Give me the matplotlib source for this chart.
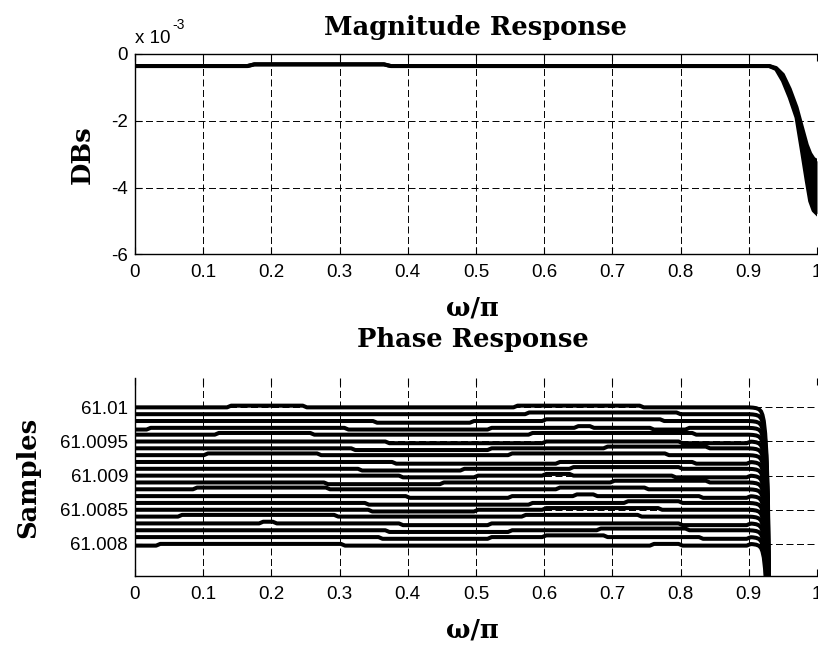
import numpy as np
import matplotlib
matplotlib.use("Agg")
import matplotlib.pyplot as plt

# ---------------- data ----------------
xticks = [0, 0.1, 0.2, 0.3, 0.4, 0.5, 0.6, 0.7, 0.8, 0.9, 1.0]
xticklabels = ["0", "0.1", "0.2", "0.3", "0.4", "0.5", "0.6", "0.7", "0.8", "0.9", "1"]

# Magnitude response (dB): upper / lower envelope of the overlaid curves
mag_x = [0.0, 0.165, 0.175, 0.365, 0.375, 0.930, 0.940, 0.950, 0.960, 0.970,
         0.978, 0.985, 0.990, 0.995, 1.0]
mag_upper = [-0.36e-3, -0.36e-3, -0.31e-3, -0.31e-3, -0.36e-3, -0.36e-3, -0.42e-3,
             -0.62e-3, -1.05e-3, -1.6e-3, -2.2e-3, -2.72e-3, -2.98e-3, -3.14e-3, -3.2e-3]
mag_lower = [-0.36e-3, -0.36e-3, -0.31e-3, -0.31e-3, -0.36e-3, -0.36e-3, -0.45e-3,
             -0.8e-3, -1.3e-3, -1.9e-3, -2.9e-3, -3.8e-3, -4.4e-3, -4.68e-3, -4.78e-3]
mag_yticks = [-6e-3, -4e-3, -2e-3, 0.0]
mag_yticklabels = ["-6", "-4", "-2", "0"]

# Phase response (group delay in samples): 21 nearly flat curves
phase_bases = [61.0100, 61.0099, 61.0098, 61.0097, 61.0096, 61.0095, 61.0094,
               61.0093, 61.0092, 61.0091, 61.0090, 61.0089, 61.0088, 61.0087,
               61.0086, 61.0085, 61.0084, 61.0083, 61.0082, 61.0081, 61.0080]
step_size = 0.000025
# (start, end, direction) of small quantisation steps on each curve
phase_steps = [
    [(0.138, 0.249, +1), (0.558, 0.743, +1)],
    [(0.575, 0.797, +1)],
    [(0.352, 0.494, -1), (0.600, 0.773, +1)],
    [(-0.01, 0.020, -1), (0.310, 0.520, -1), (0.647, 0.670, +1), (0.758, 0.810, -1)],
    [(0.120, 0.260, +1), (0.580, 0.820, +1)],
    [(0.370, 0.600, -1), (0.800, 0.900, -1)],
    [(0.320, 0.520, -1), (0.690, 0.840, +1)],
    [(0.104, 0.270, +1), (0.550, 0.780, +1)],
    [(0.380, 0.620, -1), (0.820, 0.900, -1)],
    [(0.330, 0.480, -1), (0.640, 0.800, +1)],
    [(0.390, 0.500, -1), (0.600, 0.640, +1), (0.790, 0.900, -1)],
    [(0.280, 0.450, -1), (0.700, 0.840, +1)],
    [(0.088, 0.283, +1), (0.620, 0.750, +1)],
    [(0.400, 0.550, -1), (0.645, 0.675, +1), (0.830, 0.900, -1)],
    [(0.340, 0.580, -1), (0.720, 0.800, +1)],
    [(0.345, 0.500, -1), (0.600, 0.770, +1)],
    [(0.066, 0.295, +1), (0.570, 0.740, +1)],
    [(0.185, 0.205, +1), (0.390, 0.520, -1), (0.800, 0.900, -1)],
    [(0.370, 0.550, -1), (0.680, 0.810, +1)],
    [(0.360, 0.520, -1), (0.600, 0.690, +1), (0.830, 0.900, -1)],
    [(-0.01, 0.034, -1), (0.305, 0.758, -1), (0.800, 0.900, -1)],
]
# common roll-off at the band edge
roll_x = [0.900, 0.906, 0.911, 0.915, 0.918, 0.920, 0.922, 0.924, 0.926, 0.928, 0.930]
roll_dy = [0.0, -0.000004, -0.000012, -0.000028, -0.00006, -0.00011, -0.0002,
           -0.00038, -0.0007, -0.0013, -0.003]
phase_yticks = [61.008, 61.0085, 61.009, 61.0095, 61.01]
phase_yticklabels = ["61.008", "61.0085", "61.009", "61.0095", "61.01"]

# ---------------- figure ----------------
W, H = 818, 645
fig = plt.figure(figsize=(W / 100, H / 100), dpi=100)

tick_font = "Liberation Sans"
label_font = "DejaVu Serif"
tfs = 13.5
lfs = 18.5
grid_kw = dict(color="black", linewidth=0.7, linestyle=(0, (7.2, 3.6)))


def style_axes(ax):
    ax.set_xlim(0, 1)
    ax.set_xticks(xticks)
    ax.set_xticklabels(xticklabels, fontfamily=tick_font, fontsize=tfs)
    ax.tick_params(direction="in", length=5, width=0.8, top=True, right=False,
                   pad=7, colors="black")
    ax.tick_params(axis="y", pad=5)
    ax.grid(True, **grid_kw)
    ax.set_axisbelow(True)
    for s in ax.spines.values():
        s.set_linewidth(1.0)
    ax.spines["right"].set_visible(False)


def px(x, y):
    return x / W, 1 - y / H


# ---- top: magnitude ----
ax1 = fig.add_axes([135 / W, (H - 254.5) / H, 682 / W, 200.5 / H])
ax1.fill_between(mag_x, mag_lower, mag_upper, color="black", lw=0, zorder=2)
ax1.plot(mag_x, mag_upper, color="black", lw=2.9, zorder=3)
ax1.plot(mag_x, mag_lower, color="black", lw=2.9, zorder=3)
ax1.set_ylim(-6e-3, 0)
ax1.set_yticks(mag_yticks)
ax1.set_yticklabels(mag_yticklabels, fontfamily=tick_font, fontsize=tfs)
style_axes(ax1)
ax1.set_ylabel("DBs", fontfamily=label_font, fontweight="bold", fontsize=lfs,
               labelpad=12)

# ---- bottom: phase ----
ax2 = fig.add_axes([135 / W, (H - 576) / H, 682 / W, 198 / H])
h = 0.003
for base, steps in zip(phase_bases, phase_steps):
    xs = [0.0] + list(roll_x)
    for a, b, d in steps:
        xs += [a - h, a + h, b - h, b + h]
    xs = np.array(sorted(set(v for v in xs if 0.0 <= v <= 0.930)))
    ys = np.full(xs.shape, base)
    for a, b, d in steps:
        ys += d * step_size * np.interp(xs, [a - h, a + h, b - h, b + h], [0, 1, 1, 0])
    ys += np.interp(xs, roll_x, roll_dy, left=0.0, right=roll_dy[-1])
    ax2.plot(xs, ys, color="black", lw=2.9, zorder=3, solid_capstyle="butt")
ax2.set_ylim(61.00753, 61.01043)
ax2.set_yticks(phase_yticks)
ax2.set_yticklabels(phase_yticklabels, fontfamily=tick_font, fontsize=tfs)
style_axes(ax2)
ax2.spines["top"].set_visible(False)
ax2.set_ylabel("Samples", fontfamily=label_font, fontweight="bold", fontsize=lfs,
               labelpad=14)

# ---- titles, labels ----
fig.text(*px(476, 35), "Magnitude Response", ha="center", va="baseline",
         fontfamily=label_font, fontweight="bold", fontsize=lfs)
fig.text(*px(473, 347), "Phase Response", ha="center", va="baseline",
         fontfamily=label_font, fontweight="bold", fontsize=lfs)
fig.text(*px(472, 308), "ω/π", ha="center", va="center",
         fontfamily=label_font, fontweight="bold", fontsize=lfs)
fig.text(*px(472, 630), "ω/π", ha="center", va="center",
         fontfamily=label_font, fontweight="bold", fontsize=lfs)
fig.text(*px(135, 43), "x 10", ha="left", va="baseline",
         fontfamily=tick_font, fontsize=tfs)
fig.text(*px(172, 29), "-3", ha="left", va="baseline",
         fontfamily=tick_font, fontsize=10)

fig.savefig("out.png", dpi=100)
